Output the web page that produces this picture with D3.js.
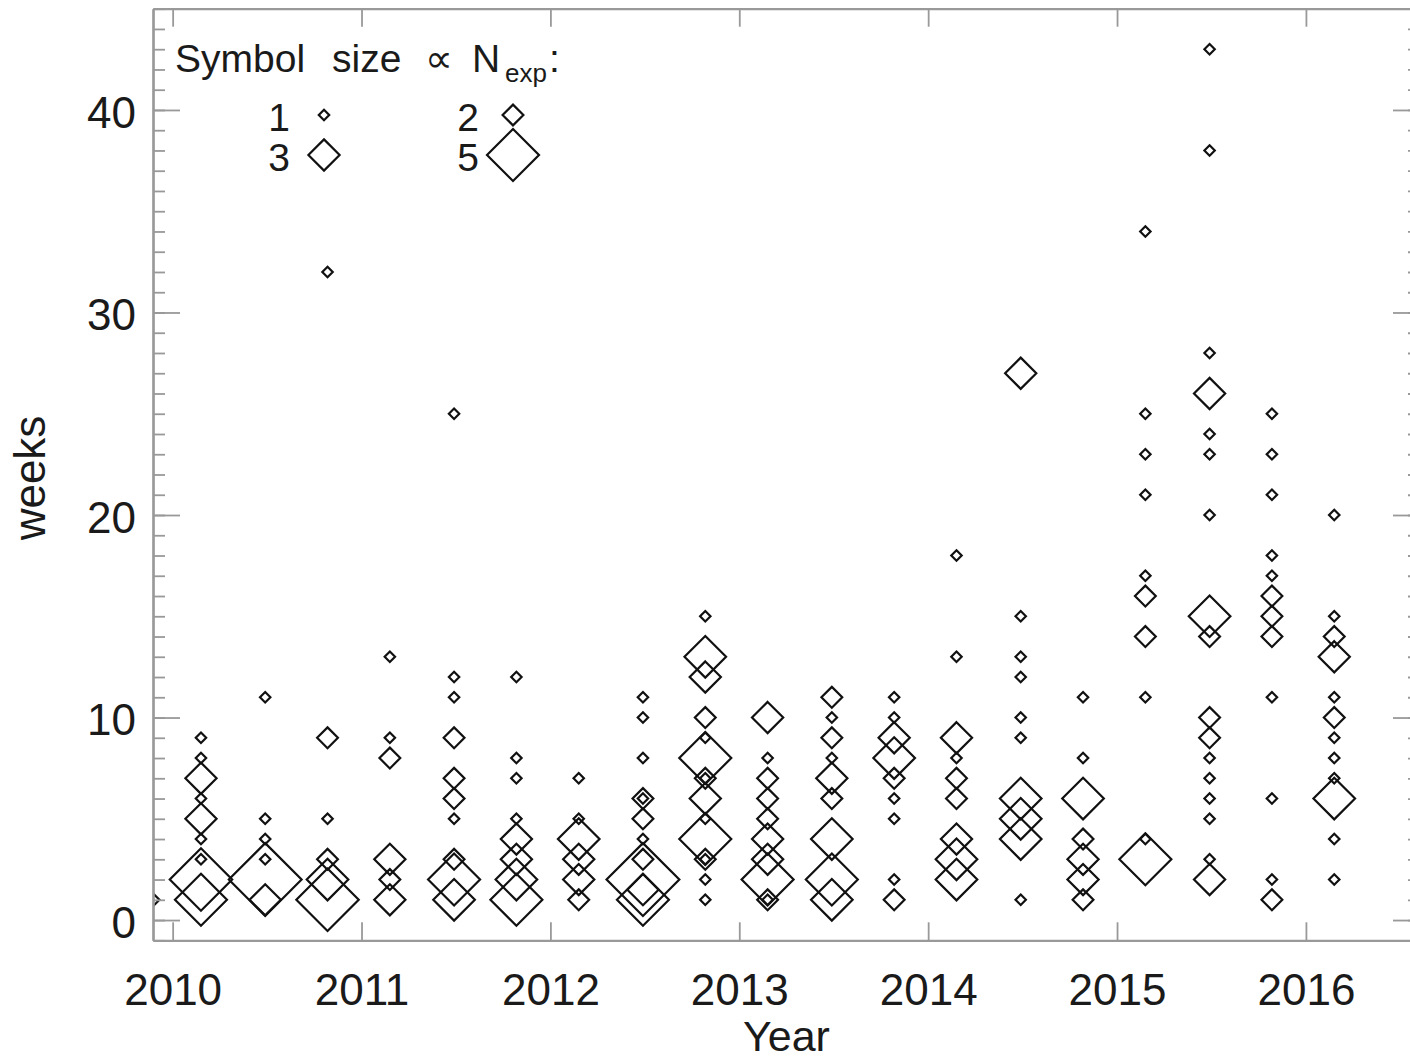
<!DOCTYPE html>
<html>
<head>
<meta charset="utf-8">
<script src="https://cdn.jsdelivr.net/npm/d3@7"></script>
<style>
  body { margin: 0; background: #fff; }
  svg { display: block; }
  text { font-family: "Liberation Sans", Arial, sans-serif; fill: #1a1a1a; }
</style>
</head>
<body>
<div id="chart"></div>
<script>
// Time bins (decimal year) of the columns of symbols
const binYears = [2009.82, 2010.15, 2010.49, 2010.82, 2011.15, 2011.49, 2011.82, 2012.15, 2012.49, 2012.82,
                  2013.15, 2013.49, 2013.82, 2014.15, 2014.49, 2014.82, 2015.15, 2015.49, 2015.82, 2016.15];

// weeks values in each bin
const weeksByBin = [
    [1],
    [9, 8, 7, 6, 5, 4, 3, 2, 1],
    [11, 5, 4, 3, 2, 1],
    [32, 9, 5, 3, 2, 1],
    [13, 9, 8, 3, 2, 1],
    [25, 12, 11, 9, 7, 6, 5, 3, 2, 1],
    [12, 8, 7, 5, 4, 3, 2, 1],
    [7, 5, 4, 3, 2, 1],
    [11, 10, 8, 6, 6, 5, 4, 3, 2, 1.5, 1],
    [15, 13, 12, 10, 9, 8, 7, 7, 6, 5, 4, 3, 3, 2, 1],
    [10, 8, 7, 6, 5, 4, 3, 2, 1, 1],
    [11, 10, 9, 8, 7, 6, 4, 2, 1],
    [11, 10, 9, 8, 7, 6, 5, 2, 1],
    [18, 13, 9, 8, 7, 6, 4, 3, 2],
    [27, 15, 13, 12, 10, 9, 6, 5, 4, 1],
    [11, 8, 6, 4, 3, 2, 1],
    [34, 25, 23, 21, 17, 16, 14, 11, 4, 3],
    [43, 38, 28, 26, 24, 23, 20, 15, 14, 10, 9, 8, 7, 6, 5, 3, 2],
    [25, 23, 21, 18, 17, 16, 15, 14, 11, 6, 2, 1],
    [20, 15, 14, 13, 11, 10, 9, 8, 7, 6, 4, 2]
];

// number of exposures (symbol size) for the same points
const nexpByBin = [
    [4],
    [1, 1, 3, 1, 3, 1, 1, 6, 5],
    [1, 1, 1, 1, 7, 3],
    [1, 2, 1, 2, 4, 6],
    [1, 1, 2, 3, 2, 3],
    [1, 1, 1, 2, 2, 2, 1, 2, 5, 4],
    [1, 1, 1, 1, 3, 3, 4, 5],
    [1, 1, 4, 3, 3, 2],
    [1, 1, 1, 1, 2, 2, 1, 2, 7, 3, 5],
    [1, 4, 3, 2, 1, 5, 2, 1, 3, 1, 5, 2, 1, 1, 1],
    [3, 1, 2, 2, 2, 3, 3, 5, 2, 1],
    [2, 1, 2, 1, 3, 2, 4, 5, 4],
    [1, 1, 3, 4, 2, 1, 1, 1, 2],
    [1, 1, 3, 1, 2, 2, 3, 4, 4],
    [3, 1, 1, 1, 1, 1, 4, 4, 4, 1],
    [1, 1, 4, 2, 3, 3, 2],
    [1, 1, 1, 1, 1, 2, 2, 1, 1, 5],
    [1, 1, 1, 3, 1, 1, 1, 4, 2, 2, 2, 1, 1, 1, 1, 1, 3],
    [1, 1, 1, 1, 1, 2, 2, 2, 1, 1, 1, 2],
    [1, 1, 2, 3, 1, 2, 1, 1, 1, 4, 1, 1]
];

const yearTicks = [2010, 2011, 2012, 2013, 2014, 2015, 2016];
const weekTicks = [0, 10, 20, 30, 40];
const legendSizes = [1, 2, 3, 5];

const width = 1410, height = 1061;
const margin = { left: 153, right: 1420, top: 8.7, bottom: 940.3 };

const svg = d3.select("#chart").append("svg")
    .attr("width", width)
    .attr("height", height);

const x = d3.scaleLinear().domain([2009.896, 2016.604]).range([margin.left, margin.right]);
const y = d3.scaleLinear().domain([-1, 45]).range([margin.bottom, margin.top]);
// half diagonal of a diamond, proportional to N_exp
const size = d3.scaleLinear().domain([0, 1]).range([0, 5.2]);

function diamond(r) {
    return "M0," + (-r) + "L" + r + ",0L0," + r + "L" + (-r) + ",0Z";
}

svg.append("clipPath").attr("id", "plotclip")
    .append("rect")
    .attr("x", margin.left).attr("y", margin.top)
    .attr("width", margin.right - margin.left)
    .attr("height", margin.bottom - margin.top);

// flatten bins into points
const points = [];
binYears.forEach(function (yr, i) {
    weeksByBin[i].forEach(function (w, j) {
        points.push({ year: yr, weeks: w, n: nexpByBin[i][j] });
    });
});

svg.append("g")
    .attr("clip-path", "url(#plotclip)")
    .selectAll("path")
    .data(points)
    .enter().append("path")
    .attr("transform", d => "translate(" + x(d.year) + "," + y(d.weeks) + ")")
    .attr("d", d => diamond(size(d.n)))
    .attr("fill", "none")
    .attr("stroke", "#111")
    .attr("stroke-width", 2.2);

// axes
function styleAxis(g) {
    g.attr("font-family", null).attr("font-size", null);
    g.selectAll("path.domain").attr("stroke", "#999").attr("stroke-width", 2.2);
    g.selectAll(".tick line").attr("stroke", "#999").attr("stroke-width", 1.8);
    g.selectAll(".tick text").style("font-size", "44px").attr("fill", "#1a1a1a");
}

const minorWeeks = d3.range(-1, 46);

svg.append("g")
    .attr("transform", "translate(" + margin.left + ",0)")
    .call(d3.axisLeft(y).tickValues(minorWeeks).tickSizeInner(-12).tickSizeOuter(0).tickFormat(""))
    .call(styleAxis);
svg.append("g")
    .attr("transform", "translate(" + margin.left + ",0)")
    .call(d3.axisLeft(y).tickValues(weekTicks).tickSizeInner(-27).tickSizeOuter(0).tickPadding(17))
    .call(styleAxis)
    .call(g => g.selectAll(".tick text").attr("dy", "0.39em"));

svg.append("g")
    .attr("transform", "translate(" + margin.right + ",0)")
    .call(d3.axisRight(y).tickValues(minorWeeks).tickSizeInner(-12).tickSizeOuter(0).tickFormat(""))
    .call(styleAxis);
svg.append("g")
    .attr("transform", "translate(" + margin.right + ",0)")
    .call(d3.axisRight(y).tickValues(weekTicks).tickSizeInner(-27).tickSizeOuter(0).tickFormat(""))
    .call(styleAxis);

svg.append("g")
    .attr("transform", "translate(0," + margin.bottom + ")")
    .call(d3.axisBottom(x).tickValues(yearTicks).tickSizeInner(-18).tickSizeOuter(0)
        .tickPadding(33).tickFormat(d3.format("d")))
    .call(styleAxis);
svg.append("g")
    .attr("transform", "translate(0," + margin.top + ")")
    .call(d3.axisTop(x).tickValues(yearTicks).tickSizeInner(-18).tickSizeOuter(0).tickFormat(""))
    .call(styleAxis);

// axis titles
svg.append("text")
    .attr("x", (margin.left + margin.right) / 2)
    .attr("y", 1051)
    .attr("text-anchor", "middle")
    .style("font-size", "43px")
    .text("Year");

svg.append("text")
    .attr("transform", "translate(45,478) rotate(-90)")
    .attr("text-anchor", "middle")
    .style("font-size", "44px")
    .text("weeks");

// legend
const legend = svg.append("g").attr("transform", "translate(175,72)");
const title = legend.append("text").style("font-size", "39px");
title.append("tspan").attr("x", 0).text("Symbol");
title.append("tspan").attr("x", 157).text("size");
title.append("tspan").attr("x", 250).text("\u221D");
title.append("tspan").attr("x", 297).text("N");
title.append("tspan").attr("x", 330).attr("dy", 10).style("font-size", "26px").text("exp");
title.append("tspan").attr("x", 374).attr("dy", -10).text(":");

const legendItems = legend.selectAll("g.item")
    .data(legendSizes)
    .enter().append("g")
    .attr("class", "item")
    .attr("transform", (d, i) => "translate(" + (149 + (i % 2) * 189) + "," + (43 + Math.floor(i / 2) * 40) + ")");

legendItems.append("text")
    .attr("x", -34)
    .attr("y", 16)
    .attr("text-anchor", "end")
    .style("font-size", "39px")
    .text(d => d);

legendItems.append("path")
    .attr("d", d => diamond(size(d)))
    .attr("fill", "none")
    .attr("stroke", "#111")
    .attr("stroke-width", 2.2);
</script>
</body>
</html>
